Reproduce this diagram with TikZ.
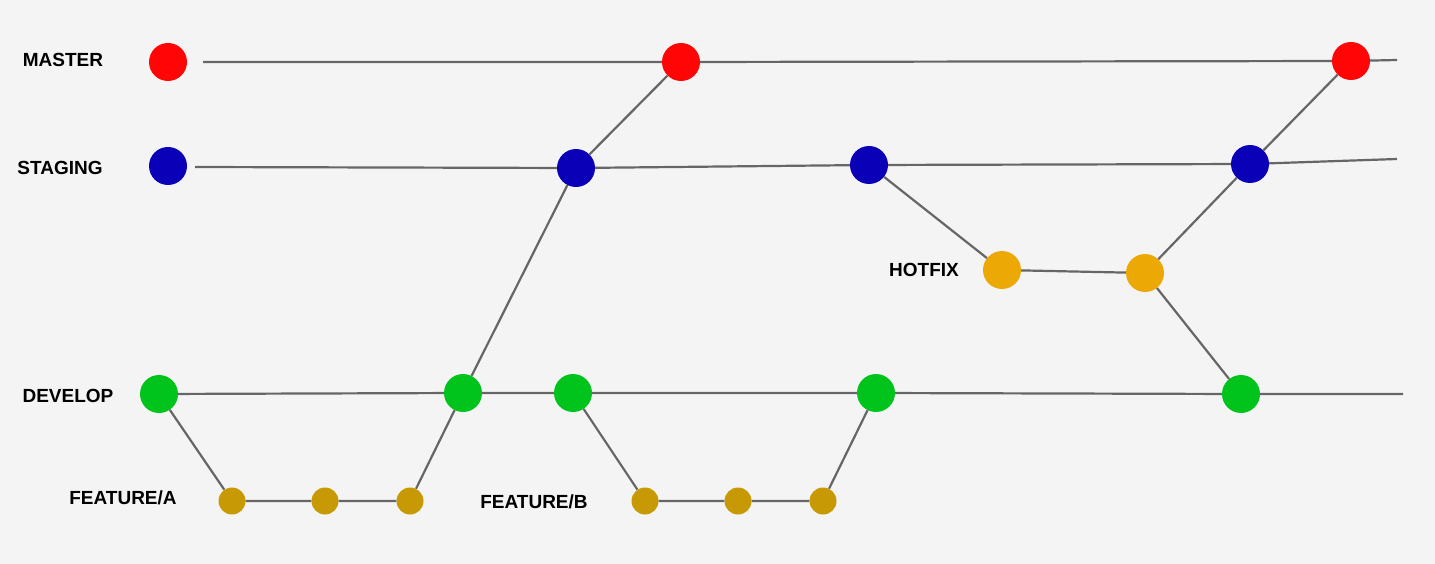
\documentclass[tikz,border=0pt]{standalone}
\usepackage{fontspec}
\setmainfont{Liberation Sans}
\usetikzlibrary{calc}

\definecolor{bgcol}{HTML}{F4F4F4}
\definecolor{linecol}{HTML}{666666}
\definecolor{mastercol}{HTML}{FF0505}
\definecolor{stagingcol}{HTML}{0A00B8}
\definecolor{developcol}{HTML}{00C41C}
\definecolor{featurecol}{HTML}{C79A05}
\definecolor{hotfixcol}{HTML}{ECA805}

\begin{document}
\begin{tikzpicture}[x=1pt,y=-1pt,
    commit/.style={circle,inner sep=0pt,minimum size=38pt},
    small/.style={circle,inner sep=0pt,minimum size=27pt,fill=featurecol},
    branch/.style={font=\bfseries\fontsize{19}{21}\selectfont,inner sep=0pt},
    link/.style={linecol,line width=2.2pt}]
            \fill[bgcol] (0,0) rectangle (1435,564);
            \useasboundingbox (0,0) rectangle (1435,564);

            % labels
            \node[branch] (lmaster) at (63,60) {MASTER};
            \node[branch] (lstaging) at (60,168) {STAGING};
            \node[branch] (lhotfix) at (924,270) {HOTFIX};
            \node[branch] (ldevelop) at (68,396) {DEVELOP};
            \node[branch] (lfeata) at (123,498) {FEATURE/A};
            \node[branch] (lfeatb) at (534,502) {FEATURE/B};

            % commits
            \node[commit,fill=mastercol] (m1) at (168,62) {};
            \node[commit,fill=mastercol] (m2) at (681,62) {};
            \node[commit,fill=mastercol] (m3) at (1351,61) {};
            \node[commit,fill=stagingcol] (s1) at (168,166) {};
            \node[commit,fill=stagingcol] (s2) at (576,168) {};
            \node[commit,fill=stagingcol] (s3) at (869,165) {};
            \node[commit,fill=stagingcol] (s4) at (1250,164) {};
            \node[commit,fill=hotfixcol] (h1) at (1002,270) {};
            \node[commit,fill=hotfixcol] (h2) at (1145,273) {};
            \node[commit,fill=developcol] (d1) at (159,394) {};
            \node[commit,fill=developcol] (d2) at (463,393) {};
            \node[commit,fill=developcol] (d3) at (573,393) {};
            \node[commit,fill=developcol] (d4) at (876,393) {};
            \node[commit,fill=developcol] (d5) at (1241,394) {};
            \node[small] (fa1) at (232,501) {};
            \node[small] (fa2) at (325,501) {};
            \node[small] (fa3) at (410,501) {};
            \node[small] (fb1) at (645,501) {};
            \node[small] (fb2) at (738,501) {};
            \node[small] (fb3) at (823,501) {};

            \coordinate (mstart) at (203,62);
            \coordinate (mend) at (1397,60);
            \coordinate (sstart) at (195,167);
            \coordinate (send) at (1397,159);
            \coordinate (dend) at (1403,394);

            % branch lines
            \draw[link] (mstart) -- (m2) -- (m3) -- (mend);
            \draw[link] (sstart) -- (s2) -- (s3) -- (s4) -- (send);
            \draw[link] (d1) -- (d2) -- (d3) -- (d4) -- (d5) -- (dend);
            \draw[link] (d1) -- (fa1) -- (fa2) -- (fa3) -- (d2);
            \draw[link] (d3) -- (fb1) -- (fb2) -- (fb3) -- (d4);
            \draw[link] (d2) -- (s2) -- (m2);
            \draw[link] (s3) -- (h1) -- (h2) -- (s4) -- (m3);
            \draw[link] (h2) -- (d5);
        \end{tikzpicture}
\end{document}
